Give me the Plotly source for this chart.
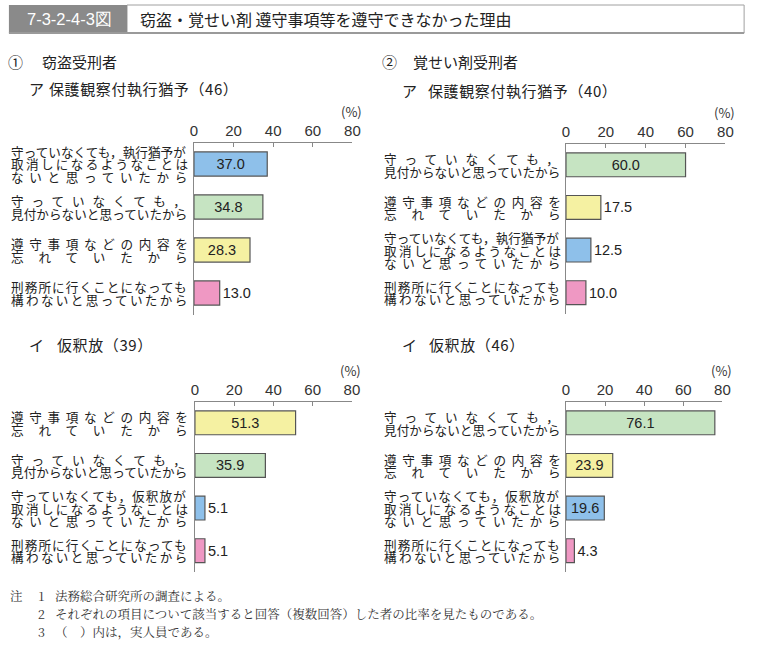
import plotly.graph_objects as go

W, H = 759, 645

# ---------------- data ----------------
LBL_TORIKESHI_Y = ["守っていなくても，執行猶予が", "取消しになるようなことは", "ないと思っていたから"]
LBL_TORIKESHI_K = ["守っていなくても，仮釈放が", "取消しになるようなことは", "ないと思っていたから"]
LBL_MITSUKE = ["守っていなくても，", "見付からないと思っていたから"]
LBL_WASURE = ["遵守事項などの内容を", "忘れていたから"]
LBL_KEIMUSHO = ["刑務所に行くことになっても", "構わないと思っていたから"]

# panel 1: 窃盗受刑者 ア 保護観察付執行猶予 (46)
p1_labels = [LBL_TORIKESHI_Y, LBL_MITSUKE, LBL_WASURE, LBL_KEIMUSHO]
p1_values = [37.0, 34.8, 28.3, 13.0]
# panel 2: 覚せい剤受刑者 ア 保護観察付執行猶予 (40)
p2_labels = [LBL_MITSUKE, LBL_WASURE, LBL_TORIKESHI_Y, LBL_KEIMUSHO]
p2_values = [60.0, 17.5, 12.5, 10.0]
# panel 3: 窃盗受刑者 イ 仮釈放 (39)
p3_labels = [LBL_WASURE, LBL_MITSUKE, LBL_TORIKESHI_K, LBL_KEIMUSHO]
p3_values = [51.3, 35.9, 5.1, 5.1]
# panel 4: 覚せい剤受刑者 イ 仮釈放 (46)
p4_labels = [LBL_MITSUKE, LBL_WASURE, LBL_TORIKESHI_K, LBL_KEIMUSHO]
p4_values = [76.1, 23.9, 19.6, 4.3]

tick_vals = [0, 20, 40, 60, 80]

# ---------------- styles ----------------
COLOR_OF = {
    "取消": "#8ec0ea",
    "見付": "#c6e4c2",
    "忘れ": "#f5f1a2",
    "刑務": "#ef98c3",
}
def color_for(lines):
    t = "".join(lines)
    if "取消" in t:
        return COLOR_OF["取消"]
    if "見付" in t:
        return COLOR_OF["見付"]
    if "忘れ" in t:
        return COLOR_OF["忘れ"]
    return COLOR_OF["刑務"]

JP = "Noto Sans CJK JP"
NUM = "Liberation Sans, Arial"
TXT = "#222222"

def px(x):
    return x / W
def py(y):
    return 1 - y / H

panels = [
    # labels, values, x-domain px, y-domain px (top, bottom), label x0
    (p1_labels, p1_values, (193, 354), (142.5, 314.5), 7),
    (p2_labels, p2_values, (571, 733), (143.5, 314.0), 386),
    (p3_labels, p3_values, (194, 353.5), (401.5, 572.0), 7),
    (p4_labels, p4_values, (571, 730), (401.5, 572.0), 386),
]

fig = go.Figure()
annotations = []
LABEL_W = 177
LABEL_F = 12.6
LINE_STEP = 12.6

for i, (labels, values, xd, yd, lx0) in enumerate(panels):
    k = "" if i == 0 else str(i + 1)
    cats = ["".join(l) for l in labels]
    colors = [color_for(l) for l in labels]
    positions = ["inside" if v >= 19 else "outside" for v in values]
    fig.add_trace(go.Bar(
        x=values, y=cats, orientation="h",
        xaxis="x" + k, yaxis="y" + k,
        marker=dict(color=colors, line=dict(color="#555555", width=1.2)),
        width=0.56,
        text=[f"{v:.1f}" for v in values],
        textposition=positions,
        insidetextanchor="middle",
        textfont=dict(family=NUM, size=14.5, color=TXT),
        cliponaxis=False,
        hoverinfo="skip",
    ))
    fig.update_layout(**{
        "xaxis" + k: dict(
            domain=[px(xd[0]), px(xd[1])], range=[0, 80], side="top",
            anchor="y" + k, tickvals=tick_vals, ticks="inside", ticklen=4,
            tickcolor="#888888", showline=True, linecolor="#888888", linewidth=1,
            showgrid=False, zeroline=False,
            tickfont=dict(family=NUM, size=15, color="#333333"),
        ),
        "yaxis" + k: dict(
            domain=[py(yd[1]), py(yd[0])], anchor="x" + k,
            type="category", categoryorder="array", categoryarray=cats,
            range=[len(cats) - 0.5, -0.5],
            showline=True, linecolor="#888888", linewidth=1,
            showticklabels=False, ticks="", showgrid=False, zeroline=False,
        ),
    })
    # "(%)"
    annotations.append(dict(
        text="(%)", x=px(xd[1] - 1), y=py(yd[0] - 31), xref="paper", yref="paper",
        xanchor="center", yanchor="middle", showarrow=False,
        font=dict(family=JP, size=13, color="#333333")))
    # category labels (justified lines)
    for cat, lines in zip(cats, labels):
        n_lines = len(lines)
        for j, line in enumerate(lines):
            n = len(line)
            sp = (LABEL_W - n * LABEL_F) / (n - 1) if n > 1 else 0
            shift = -(j - (n_lines - 1) / 2) * LINE_STEP
            annotations.append(dict(
                text=f'<span style="letter-spacing:{sp:.2f}px">{line}</span>',
                x=px(lx0), xref="paper", xanchor="left",
                y=cat, yref="y" + k, yanchor="middle", yshift=shift,
                showarrow=False, borderpad=0, borderwidth=0,
                font=dict(family=JP, size=LABEL_F, color=TXT)))

# ---------------- titles ----------------
def text_at(t, x, y, size, color=TXT, family=JP, anchor="left"):
    annotations.append(dict(
        text=t, x=px(x), y=py(y), xref="paper", yref="paper",
        xanchor=anchor, yanchor="middle", showarrow=False,
        borderpad=0, borderwidth=0,
        font=dict(family=family, size=size, color=color)))

text_at("①", 4, 62, 15)
text_at("窃盗受刑者", 39, 62, 15)
text_at("②", 384, 62, 15)
text_at("覚せい剤受刑者", 416, 62, 15)
text_at("ア", 25, 88, 15)
text_at('<span style="letter-spacing:0.6px">保護観察付執行猶予（46）</span>', 46, 88, 15)
text_at("ア", 404, 90, 15)
text_at('<span style="letter-spacing:0.6px">保護観察付執行猶予（40）</span>', 431, 90, 15)
text_at("イ", 25, 345, 15)
text_at('<span style="letter-spacing:0.6px">仮釈放（39）</span>', 54, 345, 15)
text_at("イ", 404, 345, 15)
text_at('<span style="letter-spacing:0.6px">仮釈放（46）</span>', 432, 345, 15)

# header
text_at("7-3-2-4-3図", 67, 19, 16.5, color="white",
        family="Liberation Sans Narrow, Liberation Sans, Arial", anchor="center")
text_at("窃盗・覚せい剤 遵守事項等を遵守できなかった理由", 138, 19, 16)

# notes
NOTE_F = "Noto Serif CJK JP, Noto Sans CJK JP"
text_at("注", 6, 596, 12.5, color="#333333", family=NOTE_F)
text_at("1", 35, 596, 12.5, color="#333333", family=NOTE_F)
text_at("法務総合研究所の調査による。", 52, 596, 12.5, color="#333333", family=NOTE_F)
text_at("2", 35, 614, 12.5, color="#333333", family=NOTE_F)
text_at("それぞれの項目について該当すると回答（複数回答）した者の比率を見たものである。", 52, 614, 12.5, color="#333333", family=NOTE_F)
text_at("3", 35, 632, 12.5, color="#333333", family=NOTE_F)
text_at("（　）内は，実人員である。", 52, 632, 12.5, color="#333333", family=NOTE_F)

shapes = [
    dict(type="rect", xref="paper", yref="paper", x0=px(125), x1=px(752), y0=py(33), y1=py(5),
         line=dict(color="#a0a0a0", width=1), fillcolor="white", layer="below"),
    dict(type="rect", xref="paper", yref="paper", x0=px(5), x1=px(125), y0=py(33), y1=py(5),
         line=dict(width=0), fillcolor="#8a8a8a", layer="below"),
    dict(type="line", xref="paper", yref="paper", x0=px(5), x1=px(752), y0=py(33), y1=py(33),
         line=dict(color="#9a9a9a", width=2)),
]

fig.update_layout(
    width=W, height=H, margin=dict(l=0, r=0, t=0, b=0),
    paper_bgcolor="white", plot_bgcolor="white",
    showlegend=False, bargap=0.44,
    annotations=annotations, shapes=shapes,
    uniformtext=dict(minsize=14, mode="show"),
)

fig.write_html("out.html")
